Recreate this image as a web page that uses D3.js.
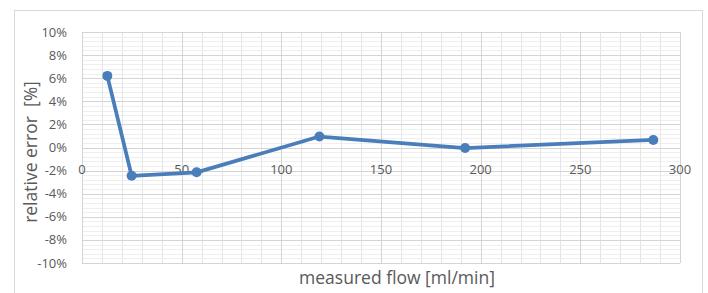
<!DOCTYPE html>
<html>
<head>
<meta charset="utf-8">
<script src="https://cdn.jsdelivr.net/npm/d3@7"></script>
<style>
  body { margin: 0; background: #fff; }
  svg text { font-family: "Open Sans", "Liberation Sans", sans-serif; fill: #595959; }
</style>
</head>
<body>
<svg id="id_svg" width="708" height="293"></svg>
<script>
// measured flow [ml/min] and relative error [%]
const flow = [12.7, 24.9, 57.5, 119.1, 192.2, 286.6]
const relError = [6.2, -2.45, -2.15, 0.95, -0.05, 0.65]
const xTicks = [0, 50, 100, 150, 200, 250, 300]
const yTicks = [-10, -8, -6, -4, -2, 0, 2, 4, 6, 8, 10]

const width = 708, height = 293
const margin = { left: 82, right: 28, top: 32, bottom: 30 }

const chart = function() {
    const svg = d3.select("#id_svg").attr("viewBox", [0, 0, width, height])

    // chart frame
    svg.append("rect")
        .attr("x", 14.5).attr("y", 10.5)
        .attr("width", 688).attr("height", 300)
        .attr("fill", "#fff").attr("stroke", "#d9d9d9")

    const x = d3.scaleLinear().domain([0, 300]).range([margin.left, width - margin.right])
    const y = d3.scaleLinear().domain([-10, 10]).range([height - margin.bottom, margin.top])

    // minor gridlines
    const g = svg.append("g")
    g.selectAll(".hminor")
        .data(d3.range(-10, 10.01, 0.4))
        .join("line")
        .attr("x1", x(0)).attr("x2", x(300))
        .attr("y1", d => Math.round(y(d)) + 0.5).attr("y2", d => Math.round(y(d)) + 0.5)
        .attr("stroke", "#efefef")
    g.selectAll(".vminor")
        .data(d3.range(0, 301, 10))
        .join("line")
        .attr("y1", y(-10)).attr("y2", y(10))
        .attr("x1", d => Math.round(x(d)) + 0.5).attr("x2", d => Math.round(x(d)) + 0.5)
        .attr("stroke", "#e6e6e6")

    // major gridlines
    g.selectAll(".hmajor")
        .data(yTicks)
        .join("line")
        .attr("x1", x(0)).attr("x2", x(300))
        .attr("y1", d => Math.round(y(d)) + 0.5).attr("y2", d => Math.round(y(d)) + 0.5)
        .attr("stroke", "#d4d4d4")
    g.selectAll(".vmajor")
        .data(xTicks)
        .join("line")
        .attr("y1", y(-10)).attr("y2", y(10))
        .attr("x1", d => Math.round(x(d)) + 0.5).attr("x2", d => Math.round(x(d)) + 0.5)
        .attr("stroke", "#d4d4d4")

    // y tick labels
    svg.append("g").selectAll("text")
        .data(yTicks)
        .join("text")
        .attr("x", 67).attr("y", d => y(d))
        .attr("dy", "0.35em")
        .attr("text-anchor", "end")
        .attr("font-size", 13)
        .text(d => d + "%")

    // x tick labels next to the zero line
    svg.append("g").selectAll("text")
        .data(xTicks)
        .join("text")
        .attr("x", d => x(d)).attr("y", y(0) + 26)
        .attr("text-anchor", "middle")
        .attr("font-size", 13)
        .text(d => d)

    // series
    const pts = flow.map((f, i) => [f, relError[i]])
    svg.append("path")
        .datum(pts)
        .attr("fill", "none")
        .attr("stroke", "#4a7ebb")
        .attr("stroke-width", 3.75)
        .attr("stroke-linejoin", "round")
        .attr("d", d3.line().x(d => x(d[0])).y(d => y(d[1])))
    svg.append("g").selectAll("circle")
        .data(pts)
        .join("circle")
        .attr("cx", d => x(d[0])).attr("cy", d => y(d[1]))
        .attr("r", 5)
        .attr("fill", "#4a7ebb")

    // axis titles
    svg.append("text")
        .attr("x", 397).attr("y", 284)
        .attr("text-anchor", "middle")
        .attr("font-size", 17.5)
        .text("measured flow [ml/min]")
    svg.append("text")
        .attr("transform", `translate(37,152) rotate(-90)`)
        .attr("text-anchor", "middle")
        .attr("font-size", 17.5)
        .attr("xml:space", "preserve")
        .text("relative error  [%]")

    return svg.node()
}
chart()
</script>
</body>
</html>
